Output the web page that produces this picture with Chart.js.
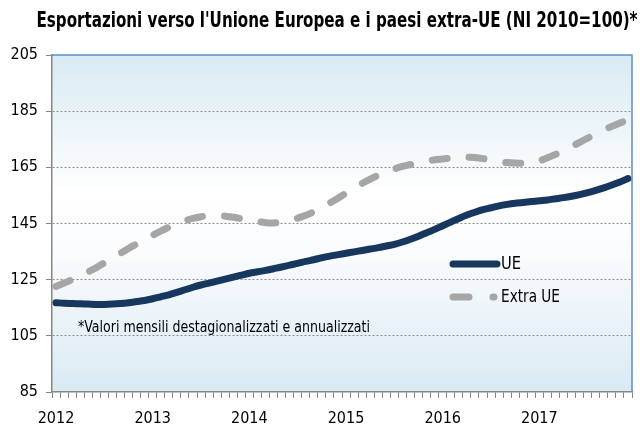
<!DOCTYPE html>
<html lang="it">
<head>
  <meta charset="UTF-8">
  <title>Esportazioni UE / extra-UE</title>
  <script src="https://cdn.jsdelivr.net/npm/chart.js"></script>
  <style>
    body {
      margin: 0;
      background: #fff;
    }
    #wrap {
      width: 640px;
      height: 430px;
      position: relative;
    }
  </style>
</head>
<body>

<div id="wrap"><canvas id="chart"></canvas></div>

<script>
// dati mensili 2012-2017
const years = ['2012', '2013', '2014', '2015', '2016', '2017'];
const months = [];
years.forEach(y => { for (let m = 1; m <= 12; m++) months.push(y + '-' + m); });

const ue = [
  116.8, 116.6, 116.5, 116.4, 116.3, 116.2, 116.2, 116.3, 116.5, 116.8, 117.2, 117.6,
  118.2, 118.9, 119.6, 120.5, 121.4, 122.3, 123.1, 123.8, 124.5, 125.2, 125.9, 126.6,
  127.3, 127.8, 128.3, 128.9, 129.5, 130.2, 130.8, 131.5, 132.1, 132.8, 133.4, 133.9,
  134.4, 134.9, 135.4, 135.9, 136.4, 137.0, 137.6, 138.4, 139.4, 140.5, 141.7, 142.9,
  144.2, 145.5, 146.8, 148.0, 149.0, 149.9, 150.6, 151.3, 151.8, 152.2, 152.5, 152.8,
  153.1, 153.4, 153.8, 154.2, 154.7, 155.3, 156.0, 156.8, 157.7, 158.7, 159.8, 161.0
];
const extraUe = [
  122.6, 123.8, 125.0, 126.3, 127.8, 129.3, 131.0, 132.7, 134.4, 136.1, 137.7, 139.3,
  140.8, 142.3, 143.7, 145.0, 146.0, 146.8, 147.4, 147.7, 147.8, 147.6, 147.2, 146.7,
  146.2, 145.7, 145.3, 145.2, 145.5, 146.1, 146.9, 147.9, 149.2, 150.7, 152.3, 154.0,
  155.8, 157.6, 159.3, 160.8, 162.2, 163.4, 164.4, 165.3, 166.0, 166.7, 167.2, 167.7,
  168.0, 168.3, 168.5, 168.6, 168.5, 168.1, 167.5, 167.0, 166.7, 166.5, 166.5, 166.7,
  167.3, 168.4, 169.6, 170.9, 172.4, 173.9, 175.4, 176.9, 178.3, 179.6, 180.8, 181.9
];
const yTicks = [85, 105, 125, 145, 165, 185, 205];

const FONT = "'DejaVu Sans Condensed', 'Liberation Sans', sans-serif";
const NAVY = '#17375e';
const GREY = '#a6a6a6';

// testo compresso orizzontalmente fino a una larghezza data
function narrowText(ctx, txt, x, y, maxW) {
  const w = ctx.measureText(txt).width;
  const k = Math.min(1, maxW / w);
  ctx.save();
  ctx.translate(x, y);
  ctx.scale(k, 1);
  ctx.fillText(txt, 0, 0);
  ctx.restore();
}

// sfondo sfumato, bordo blu, titolo, nota e legenda
const areaBg = {
  id: 'areaBg',
  beforeDraw(chart) {
    const { ctx, chartArea: a } = chart;
    const g = ctx.createLinearGradient(0, a.top, 0, a.bottom);
    g.addColorStop(0, '#d9eaf3');
    g.addColorStop(0.42, '#ffffff');
    g.addColorStop(0.6, '#f9fbfd');
    g.addColorStop(1, '#d9eaf3');
    ctx.save();
    ctx.fillStyle = g;
    ctx.fillRect(a.left, a.top, a.right - a.left, a.bottom - a.top);
    ctx.restore();
  },
  afterDraw(chart) {
    const { ctx, chartArea: a } = chart;
    ctx.save();
    ctx.strokeStyle = '#5b8fd0';
    ctx.lineWidth = 1.5;
    ctx.beginPath();
    ctx.moveTo(a.left, a.top);
    ctx.lineTo(a.right, a.top);
    ctx.lineTo(a.right, a.bottom);
    ctx.stroke();

    ctx.fillStyle = '#000';
    ctx.textAlign = 'center';
    ctx.textBaseline = 'middle';
    ctx.font = 'bold 21px ' + FONT;
    narrowText(ctx, "Esportazioni verso l'Unione Europea e i paesi extra-UE (NI 2010=100)*", 337, 22, 601);

    ctx.textAlign = 'left';
    ctx.font = '15px ' + FONT;
    narrowText(ctx, '*Valori mensili destagionalizzati e annualizzati', 78, 328, 292);

    ctx.lineCap = 'round';
    ctx.lineWidth = 7;
    ctx.strokeStyle = NAVY;
    ctx.beginPath();
    ctx.moveTo(453, 264);
    ctx.lineTo(497, 264);
    ctx.stroke();
    ctx.strokeStyle = GREY;
    ctx.beginPath();
    ctx.moveTo(453, 297);
    ctx.lineTo(469, 297);
    ctx.moveTo(493, 297);
    ctx.lineTo(494, 297);
    ctx.stroke();
    ctx.font = '17px ' + FONT;
    narrowText(ctx, 'UE', 501, 265, 20);
    narrowText(ctx, 'Extra UE', 501, 298, 59);
    ctx.restore();
  }
};

new Chart(document.getElementById('chart'), {
  type: 'line',
  data: {
    labels: months,
    datasets: [
      {
        label: 'UE',
        data: ue,
        borderColor: NAVY,
        borderWidth: 7,
        pointRadius: 0,
        tension: 0.3,
        borderCapStyle: 'round'
      },
      {
        label: 'Extra UE',
        data: extraUe,
        borderColor: GREY,
        borderWidth: 7,
        borderDash: [15, 22],
        pointRadius: 0,
        tension: 0.3,
        borderCapStyle: 'round'
      }
    ]
  },
  options: {
    responsive: true,
    maintainAspectRatio: false,
    animation: false,
    layout: { padding: { top: 55, right: 8, left: 0, bottom: 0 } },
    plugins: {
      legend: { display: false },
      title: { display: false },
      tooltip: { enabled: false }
    },
    scales: {
      x: {
        type: 'category',
        offset: true,
        grid: {
          offset: true,
          drawOnChartArea: false,
          tickLength: 6,
          color: '#868686'
        },
        border: { color: '#868686', width: 1.5 },
        ticks: {
          autoSkip: false,
          maxRotation: 0,
          padding: 11,
          color: '#000',
          font: { family: FONT, size: 16 },
          callback: (v, i) => (i % 12 === 0 ? months[i].slice(0, 4) : '')
        },
        afterFit: s => { s.height = 38; }
      },
      y: {
        min: yTicks[0],
        max: yTicks[yTicks.length - 1],
        afterBuildTicks: s => { s.ticks = yTicks.map(v => ({ value: v })); },
        grid: {
          color: c => (c.tick && (c.tick.value === 205 || c.tick.value === 85) ? 'rgba(0,0,0,0)' : '#8c8c8c'),
          tickBorderDash: [],
          tickColor: '#868686',
          tickLength: 6,
          lineWidth: 1
        },
        border: { color: '#868686', width: 1.5, dash: [2, 2] },
        ticks: {
          padding: 8,
          color: '#000',
          font: { family: FONT, size: 16 }
        },
        afterFit: s => { s.width = 52; }
      }
    }
  },
  plugins: [areaBg]
});
</script>

</body>
</html>
